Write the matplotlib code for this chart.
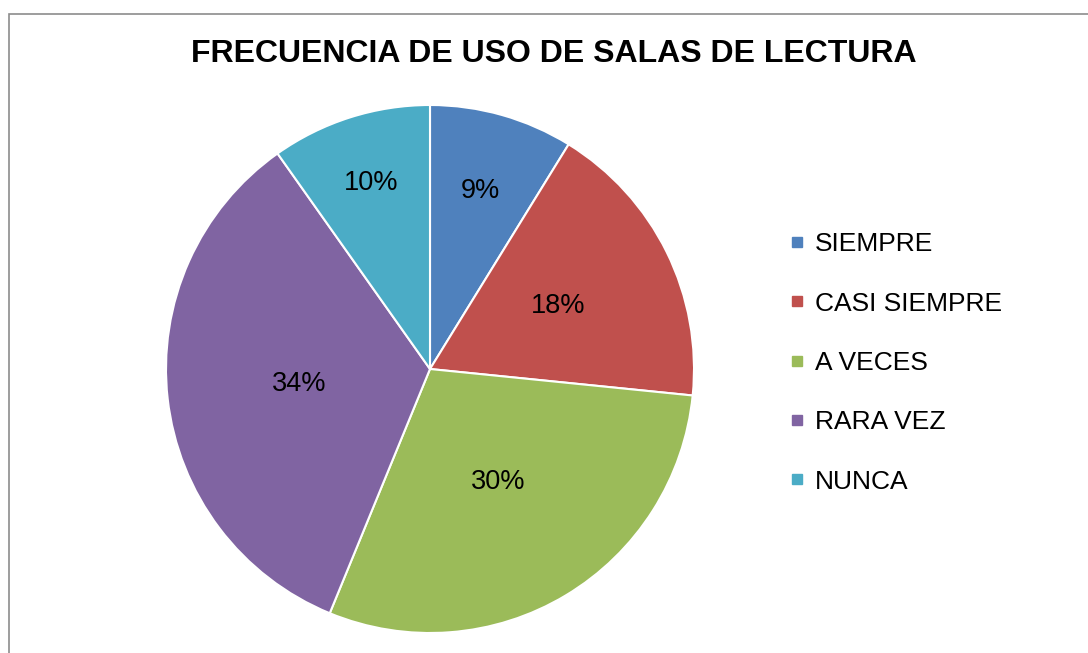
import matplotlib
matplotlib.use("Agg")
import matplotlib.pyplot as plt
from matplotlib.patches import Rectangle
from matplotlib.lines import Line2D
import numpy as np

plt.rcParams['font.family'] = ['Liberation Sans', 'DejaVu Sans']

title = "FRECUENCIA DE USO DE SALAS DE LECTURA"
categories = ["SIEMPRE", "CASI SIEMPRE", "A VECES", "RARA VEZ", "NUNCA"]
values = [8.8, 17.8, 29.6, 34.0, 9.8]
colors = ["#4F81BD", "#C0504D", "#9BBB59", "#8064A2", "#4BACC6"]
label_radius = [0.70, 0.54, 0.50, 0.50, 0.74]

W, H = 1088, 653
fig = plt.figure(figsize=(W / 100, H / 100), dpi=100)

# outer chart border
fig.patches.append(Rectangle((9 / W, -0.01), 1.02, 1 - 14 / H + 0.01,
                             transform=fig.transFigure, fill=False,
                             edgecolor="#8c8c8c", linewidth=1.2))

cx, cy, r = 430, 369, 264
ax = fig.add_axes([(cx - r) / W, (H - cy - r) / H, 2 * r / W, 2 * r / H])
wedges, texts, autotexts = ax.pie(
    values, colors=colors, startangle=90, counterclock=False,
    autopct=lambda p: f"{p:.0f}%", pctdistance=0.6,
    wedgeprops=dict(edgecolor="white", linewidth=1.5),
    textprops=dict(fontsize=19.5, color="black"))
ax.set_xlim(-1, 1)
ax.set_ylim(-1, 1)
ax.set_aspect('equal')
ax.axis('off')

# place percent labels at per-wedge radii (best-fit style)
for w, t, lr in zip(wedges, autotexts, label_radius):
    ang = np.deg2rad((w.theta1 + w.theta2) / 2)
    t.set_position((lr * np.cos(ang), lr * np.sin(ang)))
    t.set_ha('center')
    t.set_va('center')

fig.text(554 / W, 1 - 54 / H, title, ha='center', va='center',
         fontsize=23, fontweight='bold')

handles = [Line2D([], [], marker='s', linestyle='none', markersize=6.5,
                  markerfacecolor=c, markeredgecolor=c) for c in colors]
leg = fig.legend(handles, categories, loc='center left',
                 bbox_to_anchor=(790 / W, 1 - 363 / H), frameon=False,
                 fontsize=19, handlelength=0.55, handletextpad=0.4,
                 labelspacing=1.34, borderaxespad=0, borderpad=0)

fig.savefig("out.png", dpi=100, facecolor="white")
